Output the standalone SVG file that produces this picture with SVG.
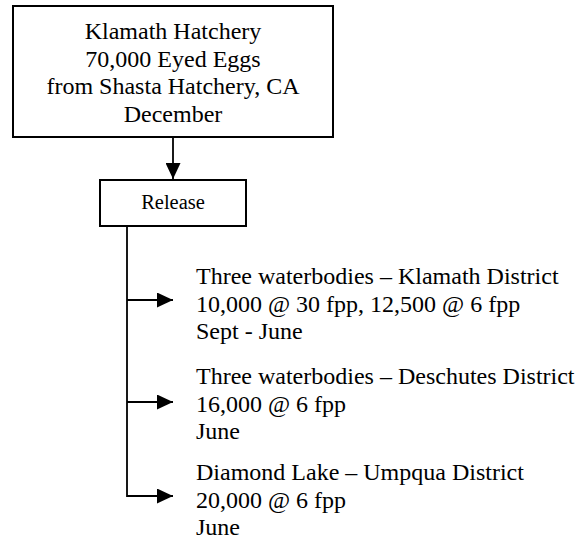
<svg xmlns="http://www.w3.org/2000/svg" width="581" height="541" viewBox="0 0 581 541">
<style>
.box{fill:#fff;stroke:#000;stroke-width:2}
.t{font-family:"Liberation Serif","Times New Roman",serif;font-size:24px;fill:#000}
.c{text-anchor:middle}
.ln{stroke:#000;stroke-width:1.8;fill:none}
</style>
<defs>
<marker id="ah" markerUnits="userSpaceOnUse" markerWidth="17" markerHeight="15" refX="16" refY="7.5" orient="auto">
<path d="M0,0 L16,7.5 L0,15 Z" fill="#000"/>
</marker>
</defs>
<rect width="581" height="541" fill="#fff"/>
<g id="connectors">
<line class="ln" x1="173" y1="138" x2="173" y2="179" marker-end="url(#ah)"/>
<polyline class="ln" points="127,226 127,496 173,496" marker-end="url(#ah)"/>
<line class="ln" x1="127" y1="300" x2="173" y2="300" marker-end="url(#ah)"/>
<line class="ln" x1="127" y1="402" x2="173" y2="402" marker-end="url(#ah)"/>
</g>
<g id="hatchery">
<rect class="box" x="13" y="6" width="320" height="131"/>
<text class="t c" x="173" y="39">Klamath Hatchery</text>
<text class="t c" x="173" y="66.5">70,000 Eyed Eggs</text>
<text class="t c" x="173" y="94">from Shasta Hatchery, CA</text>
<text class="t c" x="173" y="121.5">December</text>
</g>
<g id="release">
<rect class="box" x="100" y="180" width="146" height="46"/>
<text class="t c" x="173" y="209" style="font-size:20.5px">Release</text>
</g>
<g id="klamath">
<text class="t" x="196" y="284">Three waterbodies – Klamath District</text>
<text class="t" x="196" y="311.5">10,000 @ 30 fpp, 12,500 @ 6 fpp</text>
<text class="t" x="196" y="339">Sept - June</text>
</g>
<g id="deschutes">
<text class="t" x="196" y="384">Three waterbodies – Deschutes District</text>
<text class="t" x="196" y="411.5">16,000 @ 6 fpp</text>
<text class="t" x="196" y="439">June</text>
</g>
<g id="umpqua">
<text class="t" x="196" y="480">Diamond Lake – Umpqua District</text>
<text class="t" x="196" y="507.5">20,000 @ 6 fpp</text>
<text class="t" x="196" y="535">June</text>
</g>
</svg>
